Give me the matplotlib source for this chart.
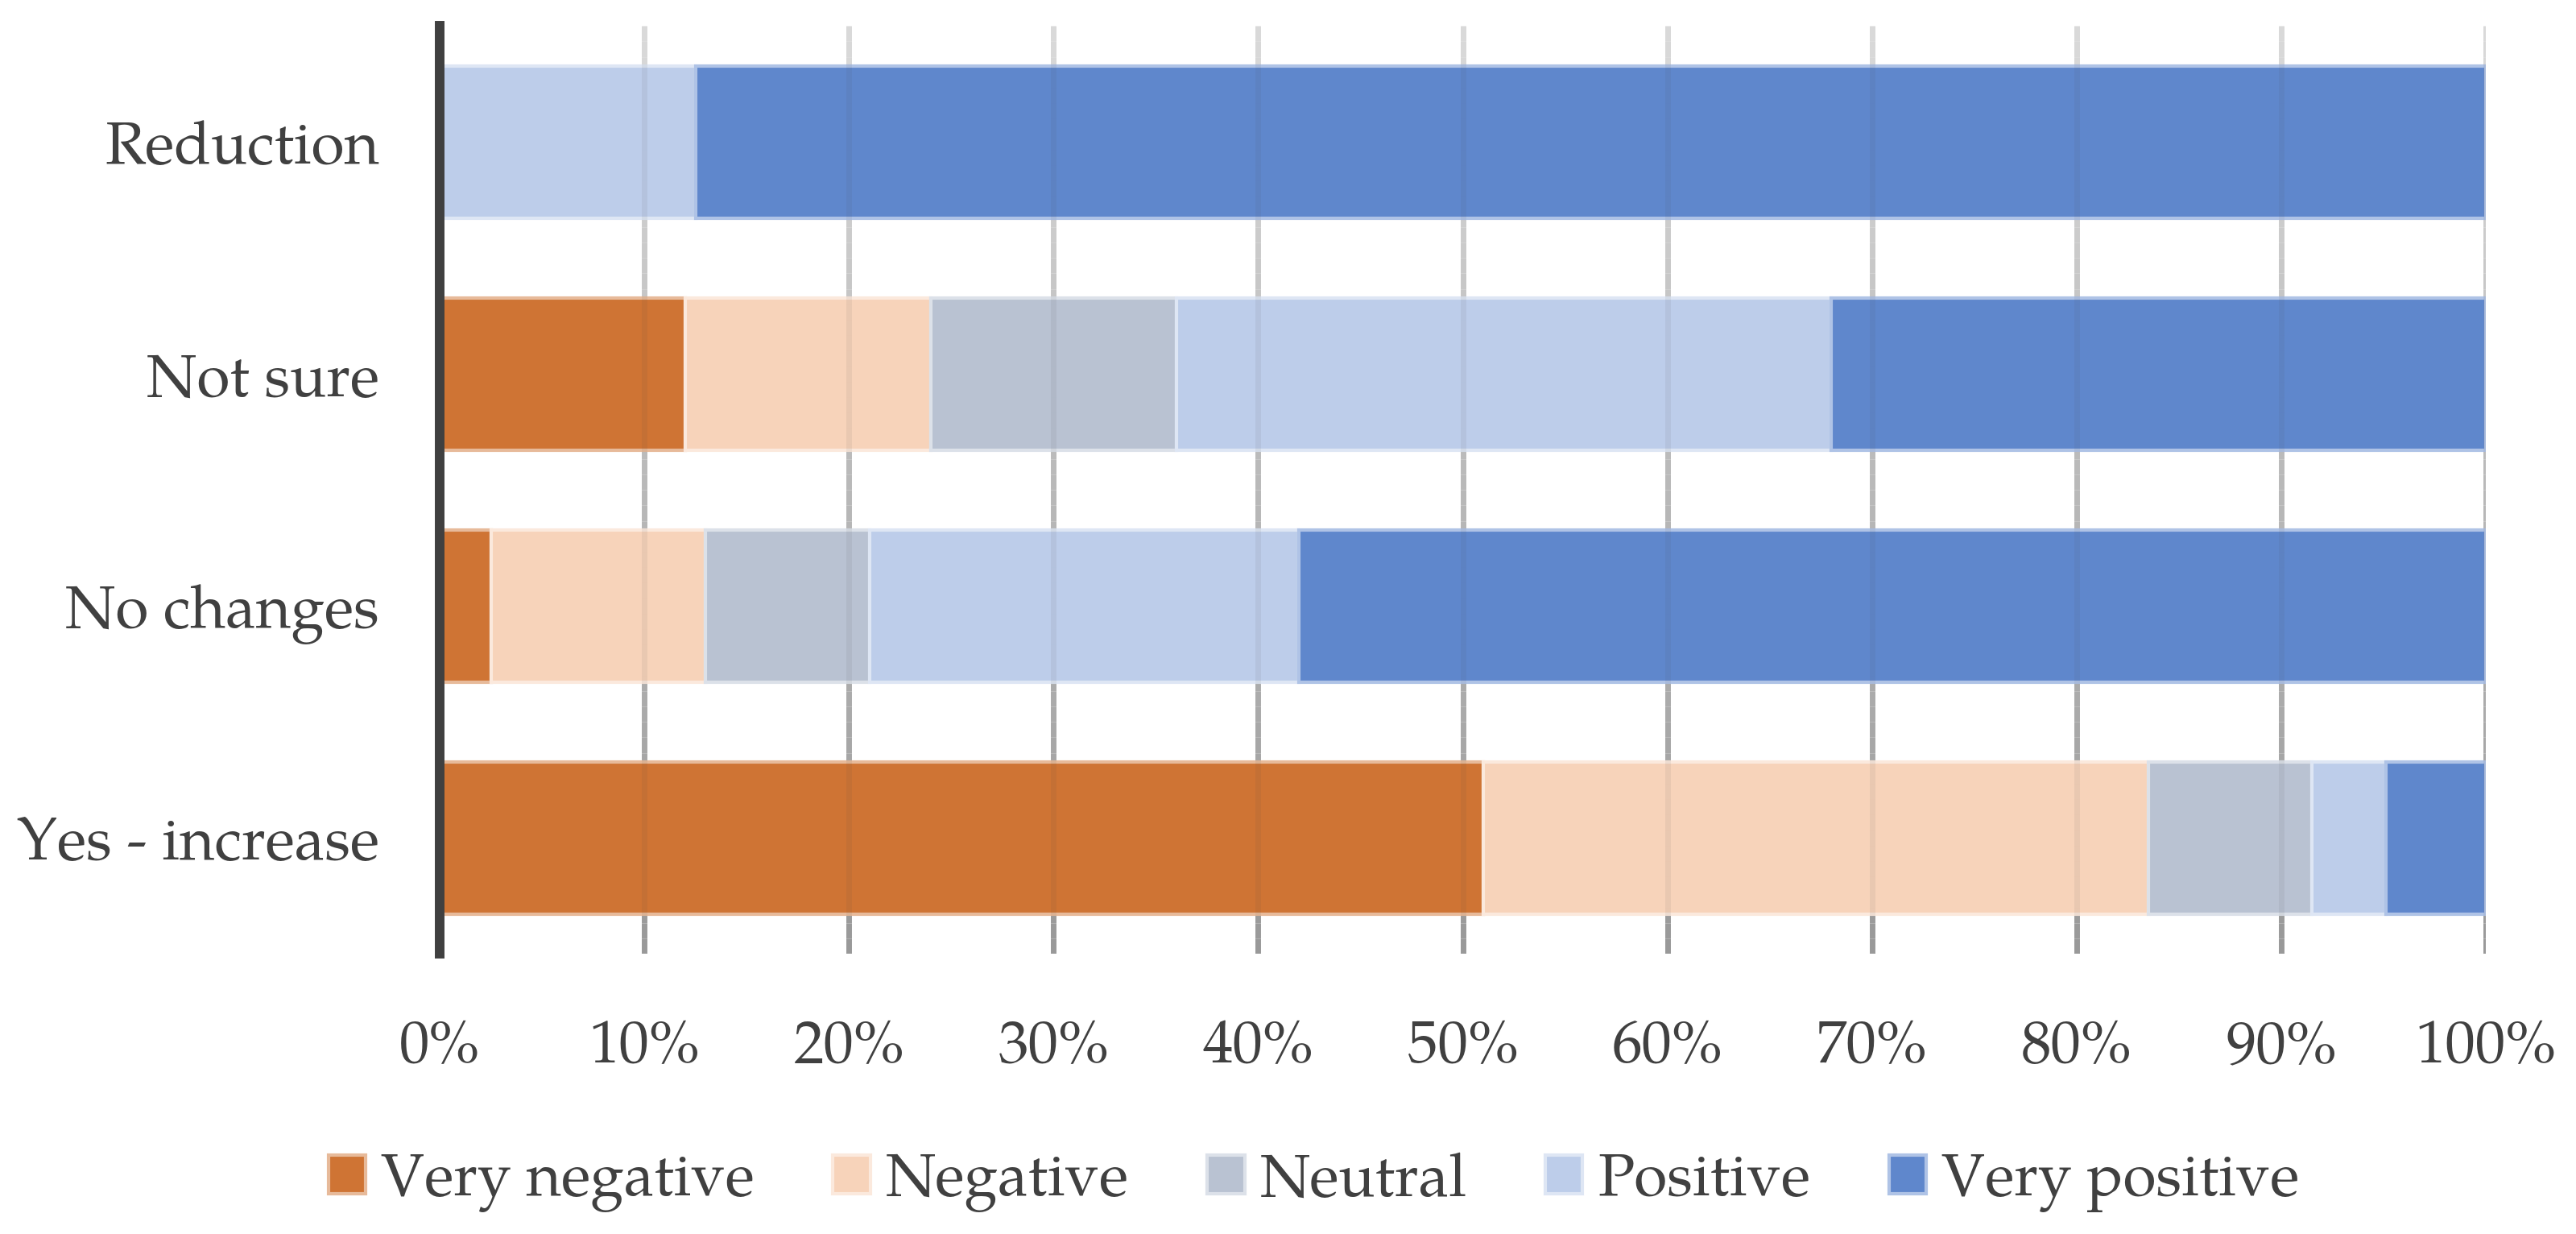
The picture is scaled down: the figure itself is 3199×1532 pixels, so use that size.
import matplotlib
matplotlib.use("Agg")
import matplotlib.pyplot as plt
from matplotlib import font_manager
import numpy as np
from matplotlib.collections import LineCollection
from matplotlib.patches import Patch
from matplotlib.ticker import FuncFormatter

# pick a Palatino-like serif family if one is installed
serif = 'DejaVu Serif'
for name in ['TeX Gyre Pagella', 'P052', 'URW Palladio L', 'Palatino Linotype',
             'Book Antiqua', 'Palatino', 'Domitian', 'Liberation Serif']:
    try:
        font_manager.findfont(font_manager.FontProperties(family=name),
                              fallback_to_default=False)
        serif = name
        break
    except Exception:
        pass
plt.rcParams['font.family'] = [serif, 'DejaVu Serif']

# data (percent of respondents)
categories = ['Yes - increase', 'No changes', 'Not sure', 'Reduction']
very_negative = [51.0, 2.5, 12.0, 0.0]
negative = [32.5, 10.5, 12.0, 0.0]
neutral = [8.0, 8.0, 12.0, 0.0]
positive = [3.6, 21.0, 32.0, 12.5]
very_positive = [4.9, 58.0, 32.0, 87.5]

series_names = ['Very negative', 'Negative', 'Neutral', 'Positive', 'Very positive']
series = [very_negative, negative, neutral, positive, very_positive]
colors = ['#CF7434', '#F7D3BA', '#B9C2D2', '#BDCDEA', '#5F87CC']

text_color = '#404040'
fs = 28.5 if serif == 'Liberation Serif' else 27.0


def lighten(c, amt=0.5):
    rgb = np.array(matplotlib.colors.to_rgb(c))
    return tuple(rgb + (1 - rgb) * amt)


fig = plt.figure(figsize=(15.995, 7.66), dpi=200)
ax = fig.add_axes([0.1707, 0.227, 0.7943, 0.752])

y = np.arange(len(categories))
left = np.zeros(len(categories))
for name, vals, col in zip(series_names, series, colors):
    vals = np.array(vals)
    ax.barh(y, vals, left=left, height=0.656, color=col,
            edgecolor=lighten(col, 0.5), linewidth=1.5, zorder=2)
    left += vals

ax.set_xlim(0, 100)
ax.set_ylim(-0.5, 3.5)

# gradient gridlines (light at top, darker at bottom)
ticks = np.arange(10, 101, 10)
n = 60
ys = np.linspace(-0.5, 3.5, n + 1)
shade = np.linspace(160, 229, n) / 255.0
segs = []
cols = []
for t in ticks:
    for i in range(n):
        segs.append([(t, ys[i]), (t, ys[i + 1])])
        cols.append((shade[i], shade[i], shade[i], 1.0))
lc = LineCollection(segs, colors=cols, linewidths=2.5, capstyle='butt', zorder=1)
ax.add_collection(lc)
# faint overlay so lines show through the bars
lc2 = LineCollection(segs, colors=[(0.3, 0.3, 0.3, 0.08)] * len(segs),
                     linewidths=2.5, capstyle='butt', zorder=3)
ax.add_collection(lc2)

ax.set_xticks(np.arange(0, 101, 10))
ax.xaxis.set_major_formatter(FuncFormatter(lambda v, p: '%d%%' % v))
ax.set_yticks(y)
ax.set_yticklabels(categories)
ax.tick_params(axis='x', length=0, pad=29, labelsize=fs, colors=text_color)
ax.tick_params(axis='y', length=0, pad=27, labelsize=fs, colors=text_color)
for lab in ax.get_xticklabels() + ax.get_yticklabels():
    lab.set_family([serif, 'DejaVu Serif'])

for s in ['top', 'right', 'bottom']:
    ax.spines[s].set_visible(False)
ax.spines['left'].set_color(text_color)
ax.spines['left'].set_linewidth(4.3)
ax.spines['left'].set_zorder(5)

handles = [Patch(facecolor=c, edgecolor=lighten(c, 0.5), linewidth=1.5) for c in colors]
leg = fig.legend(handles, series_names, loc='center', bbox_to_anchor=(0.51, 0.042),
                 ncol=5, frameon=False, handlelength=0.62,
                 handleheight=0.62, handletextpad=0.25, columnspacing=1.3,
                 prop={'family': [serif, 'DejaVu Serif'], 'size': fs})
for t in leg.get_texts():
    t.set_color(text_color)

fig.savefig('out.png', dpi=200)
